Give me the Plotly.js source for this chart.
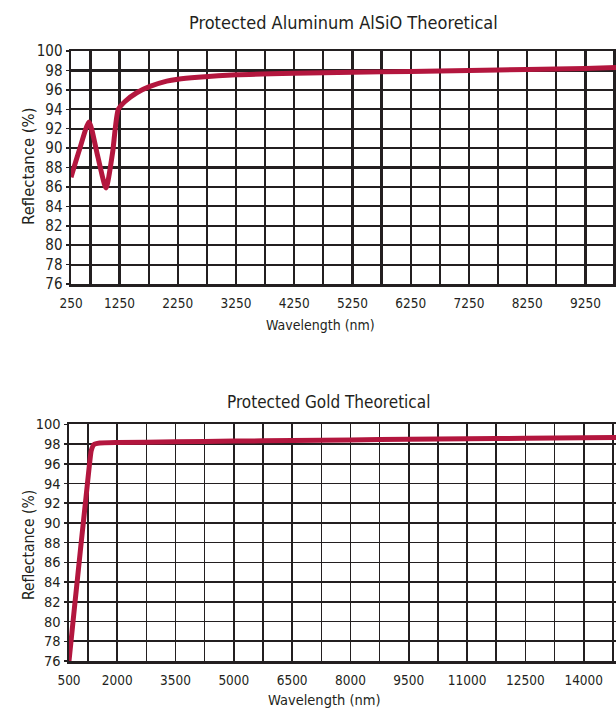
<!DOCTYPE html>
<html>
<head>
<meta charset="utf-8">
<script src="https://cdn.plot.ly/plotly-3.0.1.min.js"></script>
<style>html,body{margin:0;padding:0;background:#fff;}#chart{width:616px;height:713px;}</style>
</head>
<body>
<div id="chart"></div>
<script>
// ---- Data: Protected Aluminum AlSiO Theoretical ----
const alWavelength = [417, 560, 726, 870, 1018, 1130, 1229, 1344, 1545, 1773, 2060, 2250, 2597, 3250, 4250, 5250, 6250, 7250, 8250, 9250, 9775];
const alReflectance = [87.0, 89.8, 92.7, 89.3, 85.9, 89.5, 94.0, 94.8, 95.7, 96.35, 96.9, 97.1, 97.3, 97.55, 97.7, 97.8, 97.9, 98.0, 98.1, 98.2, 98.3];
const alTickValues = [250, 1250, 2250, 3250, 4250, 5250, 6250, 7250, 8250, 9250];

// ---- Data: Protected Gold Theoretical ----
const auWavelength = [760, 900, 1050, 1200, 1280, 1330, 1400, 1550, 2000, 3500, 5000, 6500, 8000, 9500, 11000, 12500, 14000, 14830];
const auReflectance = [76.0, 81.4, 87.1, 92.7, 95.7, 97.3, 97.95, 98.1, 98.15, 98.22, 98.3, 98.35, 98.42, 98.48, 98.53, 98.58, 98.63, 98.66];
const auTickValues = [500, 2000, 3500, 5000, 6500, 8000, 9500, 11000, 12500, 14000];

const yTickValues = [76, 78, 80, 82, 84, 86, 88, 90, 92, 94, 96, 98, 100];

const FONT = '"DejaVu Sans Condensed", "Liberation Sans Narrow", sans-serif';
const INK = '#231f20';
const RED = '#b3163e';

// Build x ticks: first label sits on the axis start, gridlines every half label step
function buildTicks(labels, rangeStart, rangeEnd) {
  const step = labels[2] - labels[1];
  const half = step / 2;
  const vals = [rangeStart];
  const text = [String(labels[0])];
  for (let v = labels[1] - half; v <= rangeEnd; v += half) {
    vals.push(v);
    text.push(labels.indexOf(v) > 0 ? String(v) : '');
  }
  return {vals, text};
}

const alRange = [417, 9775];
const auRange = [760, 14830];
const alTicks = buildTicks(alTickValues, alRange[0], alRange[1]);
const auTicks = buildTicks(auTickValues, auRange[0], auRange[1]);

const traces = [
  {x: alWavelength, y: alReflectance, xaxis: 'x', yaxis: 'y', type: 'scatter', mode: 'lines',
   line: {color: RED, width: 5, shape: 'spline', smoothing: 0.6}, hoverinfo: 'skip'},
  {x: auWavelength, y: auReflectance, xaxis: 'x2', yaxis: 'y2', type: 'scatter', mode: 'lines',
   line: {color: RED, width: 5, shape: 'spline', smoothing: 0.4}, hoverinfo: 'skip'}
];

function xAxis(ticks, range, domain, anchor, size, gw) {
  return {
    domain: domain, anchor: anchor, range: range, type: 'linear',
    tickmode: 'array', tickvals: ticks.vals, ticktext: ticks.text,
    showgrid: true, gridcolor: INK, gridwidth: gw,
    showline: true, linecolor: INK, linewidth: 2.5, mirror: true,
    ticks: '', zeroline: false, ticklabelstandoff: 5,
    tickfont: {family: FONT, size: size, color: INK}
  };
}
function yAxis(domain, anchor, size, gw) {
  return {
    domain: domain, anchor: anchor, range: [76, 100], type: 'linear',
    tickmode: 'array', tickvals: yTickValues, ticktext: yTickValues.map(String),
    showgrid: true, gridcolor: INK, gridwidth: gw,
    showline: true, linecolor: INK, linewidth: 2.5, mirror: true,
    ticks: 'outside', ticklen: 3, tickcolor: INK, tickwidth: 1.5,
    zeroline: false, ticklabelstandoff: 0,
    tickfont: {family: FONT, size: size, color: INK}
  };
}

const layout = {
  width: 616, height: 713,
  margin: {l: 69, r: 0, t: 51, b: 52},
  paper_bgcolor: '#ffffff', plot_bgcolor: '#ffffff',
  showlegend: false,
  xaxis: xAxis(alTicks, alRange, [0.0037, 1], 'y', 13.5, 2.2),
  yaxis: yAxis([0.618, 1], 'x', 15, 2.2),
  xaxis2: xAxis(auTicks, auRange, [0, 1], 'y2', 13.5, 1.6),
  yaxis2: yAxis([0, 0.388], 'x2', 14.5, 1.6),
  annotations: [
    {text: 'Protected Aluminum AlSiO Theoretical', xref: 'paper', yref: 'paper', x: 0.502, y: 1.0, yshift: 29,
     xanchor: 'center', yanchor: 'middle', showarrow: false, font: {family: FONT, size: 18, color: INK}},
    {text: 'Protected Gold Theoretical', xref: 'paper', yref: 'paper', x: 0.475, y: 0.388, yshift: 22,
     xanchor: 'center', yanchor: 'middle', showarrow: false, font: {family: FONT, size: 17, color: INK}},
    {text: 'Wavelength (nm)', xref: 'paper', yref: 'paper', x: 0.46, y: 0.618, yshift: -41,
     xanchor: 'center', yanchor: 'middle', showarrow: false, font: {family: FONT, size: 14, color: INK}},
    {text: 'Wavelength (nm)', xref: 'paper', yref: 'paper', x: 0.468, y: 0, yshift: -39,
     xanchor: 'center', yanchor: 'middle', showarrow: false, font: {family: FONT, size: 14.5, color: INK}},
    {text: 'Reflectance (%)', xref: 'paper', yref: 'paper', x: 0, xshift: -40, y: 0.81, textangle: -90,
     xanchor: 'center', yanchor: 'middle', showarrow: false, font: {family: FONT, size: 16.5, color: INK}},
    {text: 'Reflectance (%)', xref: 'paper', yref: 'paper', x: 0, xshift: -40, y: 0.19, textangle: -90,
     xanchor: 'center', yanchor: 'middle', showarrow: false, font: {family: FONT, size: 15.5, color: INK}}
  ]
};

Plotly.newPlot('chart', traces, layout, {staticPlot: true, displayModeBar: false});
</script>
</body>
</html>
